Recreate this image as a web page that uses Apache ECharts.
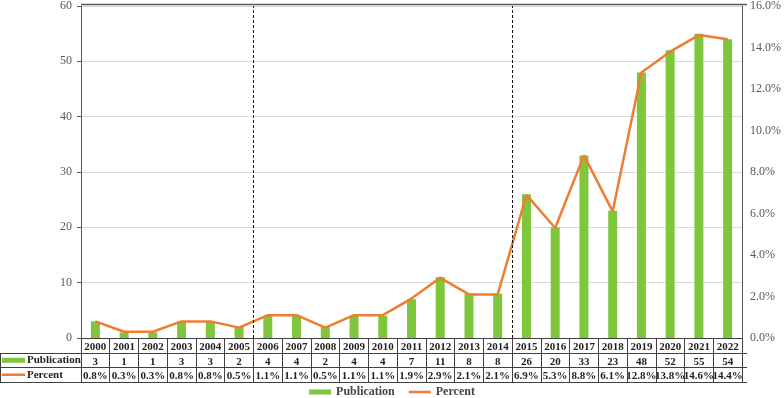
<!DOCTYPE html>
<html>
<head>
<meta charset="utf-8">
<script src="https://cdn.jsdelivr.net/npm/echarts@6/dist/echarts.min.js"></script>
<style>
  html, body { margin: 0; padding: 0; background: #fff; }
  #chart { width: 784px; height: 398px; }
</style>
</head>
<body>
<div id="chart"></div>
<script>
// data
var years = ['2000','2001','2002','2003','2004','2005','2006','2007','2008','2009','2010','2011',
  '2012','2013','2014','2015','2016','2017','2018','2019','2020','2021','2022']
var publication = [3,1,1,3,3,2,4,4,2,4,4,7,11,8,8,26,20,33,23,48,52,55,54]
var percent = [0.8,0.3,0.3,0.8,0.8,0.5,1.1,1.1,0.5,1.1,1.1,1.9,2.9,2.1,2.1,6.9,5.3,8.8,6.1,12.8,13.8,14.6,14.4]
var periodStarts = ['2006', '2015'] // dashed dividers sit before these years

const FONT = '"Liberation Serif", "Times New Roman", serif'
const GREEN = '#7ec63c',
    ORANGE = '#ed7d31',
    LINE = '#404040'

// layout
const W = 784, H = 398
const grid = {left: 81, right: 37, top: 4, bottom: 60}
const rowH = 14.5
const tableTop = H - grid.bottom
const plotRight = W - grid.right

const chart = echarts.init(document.getElementById('chart'), null, {renderer: 'canvas'})

// horizontal table rules + the left header column
var graphics = []
for (var r = 1; r <= 3; r++) {
  var y = Math.round(tableTop + r * rowH) + 0.5
  graphics.push({type: 'line', shape: {x1: 0, y1: y, x2: plotRight, y2: y},
    style: {stroke: LINE, lineWidth: 1}, silent: true})
}
graphics.push({type: 'line',
  shape: {x1: 0.5, y1: Math.round(tableTop + rowH) + 0.5, x2: 0.5, y2: Math.round(tableTop + 3 * rowH) + 0.5},
  style: {stroke: LINE, lineWidth: 1}, silent: true})
var row1 = tableTop + rowH * 1.5 + 0.5, row2 = tableTop + rowH * 2.5 + 0.5
graphics.push({type: 'rect', shape: {x: 2, y: row1 - 2.5, width: 23, height: 5}, style: {fill: GREEN}, silent: true})
graphics.push({type: 'line', shape: {x1: 2, y1: row2, x2: 25, y2: row2}, style: {stroke: ORANGE, lineWidth: 2.5}, silent: true})
graphics.push({type: 'text', x: 27, y: row1, style: {text: 'Publication', font: 'bold 11px ' + FONT,
  fill: '#222', verticalAlign: 'middle'}, silent: true})
graphics.push({type: 'text', x: 27, y: row2, style: {text: 'Percent', font: 'bold 11px ' + FONT,
  fill: '#222', verticalAlign: 'middle'}, silent: true})

const tableLabel = {interval: 0, fontFamily: FONT, fontWeight: 'bold', fontSize: 11, color: '#222', margin: 4}

const option = {
  animation: false,
  backgroundColor: '#fff',
  textStyle: {fontFamily: FONT},
  grid: grid,
  legend: {
    top: 381,
    left: 'center',
    itemWidth: 22,
    itemHeight: 5,
    itemGap: 14,
    textStyle: {fontFamily: FONT, fontWeight: 'bold', fontSize: 12, color: '#444'},
    data: [
      {name: 'Publication', icon: 'rect'},
      {name: 'Percent', icon: 'path://M0,0L22,0L22,2.5L0,2.5Z'}
    ]
  },
  xAxis: [
    {
      type: 'category', data: years, position: 'bottom',
      axisLine: {lineStyle: {color: LINE, width: 1}},
      axisTick: {show: true, interval: 0, length: Math.round(rowH * 3), lineStyle: {color: LINE}},
      axisLabel: tableLabel
    },
    {
      type: 'category', data: publication, position: 'bottom', offset: rowH,
      axisLine: {show: false}, axisTick: {show: false}, axisLabel: tableLabel
    },
    {
      type: 'category', data: percent.map(function(v) { return v.toFixed(1) + '%' }),
      position: 'bottom', offset: rowH * 2,
      axisLine: {show: false}, axisTick: {show: false}, axisLabel: tableLabel
    },
    {
      // helper scale for the dividers between categories
      type: 'value', min: 0, max: years.length, show: false
    }
  ],
  yAxis: [
    {
      type: 'value', min: 0, max: 60, interval: 10,
      axisLine: {show: true, lineStyle: {color: '#595959'}},
      axisTick: {show: true, length: 4, lineStyle: {color: '#595959'}},
      axisLabel: {fontFamily: FONT, fontSize: 12, color: '#595959', margin: 9},
      splitLine: {lineStyle: {color: '#d9d9d9'}}
    },
    {
      type: 'value', min: 0, max: 16, interval: 2, position: 'right',
      axisLine: {show: true, lineStyle: {color: '#595959'}},
      axisTick: {show: false},
      axisLabel: {fontFamily: FONT, fontSize: 12, color: '#595959', margin: 8,
        formatter: function(v) { return v.toFixed(1) + '%' }},
      splitLine: {show: false}
    }
  ],
  graphic: graphics.concat([{
    type: 'line', shape: {x1: grid.left, y1: grid.top + 0.5, x2: plotRight, y2: grid.top + 0.5},
    style: {stroke: '#595959', lineWidth: 1.5}, silent: true
  }]),
  series: [
    {
      name: 'Publication', type: 'bar', data: publication, barWidth: 9,
      itemStyle: {color: GREEN}
    },
    {
      name: 'Percent', type: 'line', yAxisIndex: 1, data: percent,
      symbol: 'none', lineStyle: {color: ORANGE, width: 2.5}, itemStyle: {color: ORANGE}
    },
    {
      name: 'dividers', type: 'line', xAxisIndex: 3, yAxisIndex: 0, data: [],
      markLine: {
        silent: true, symbol: 'none', label: {show: false},
        lineStyle: {color: '#111', type: [3, 2], width: 1},
        data: periodStarts.map(function(y) { return {xAxis: years.indexOf(y)} })
      }
    }
  ]
}

chart.setOption(option)
</script>
</body>
</html>
